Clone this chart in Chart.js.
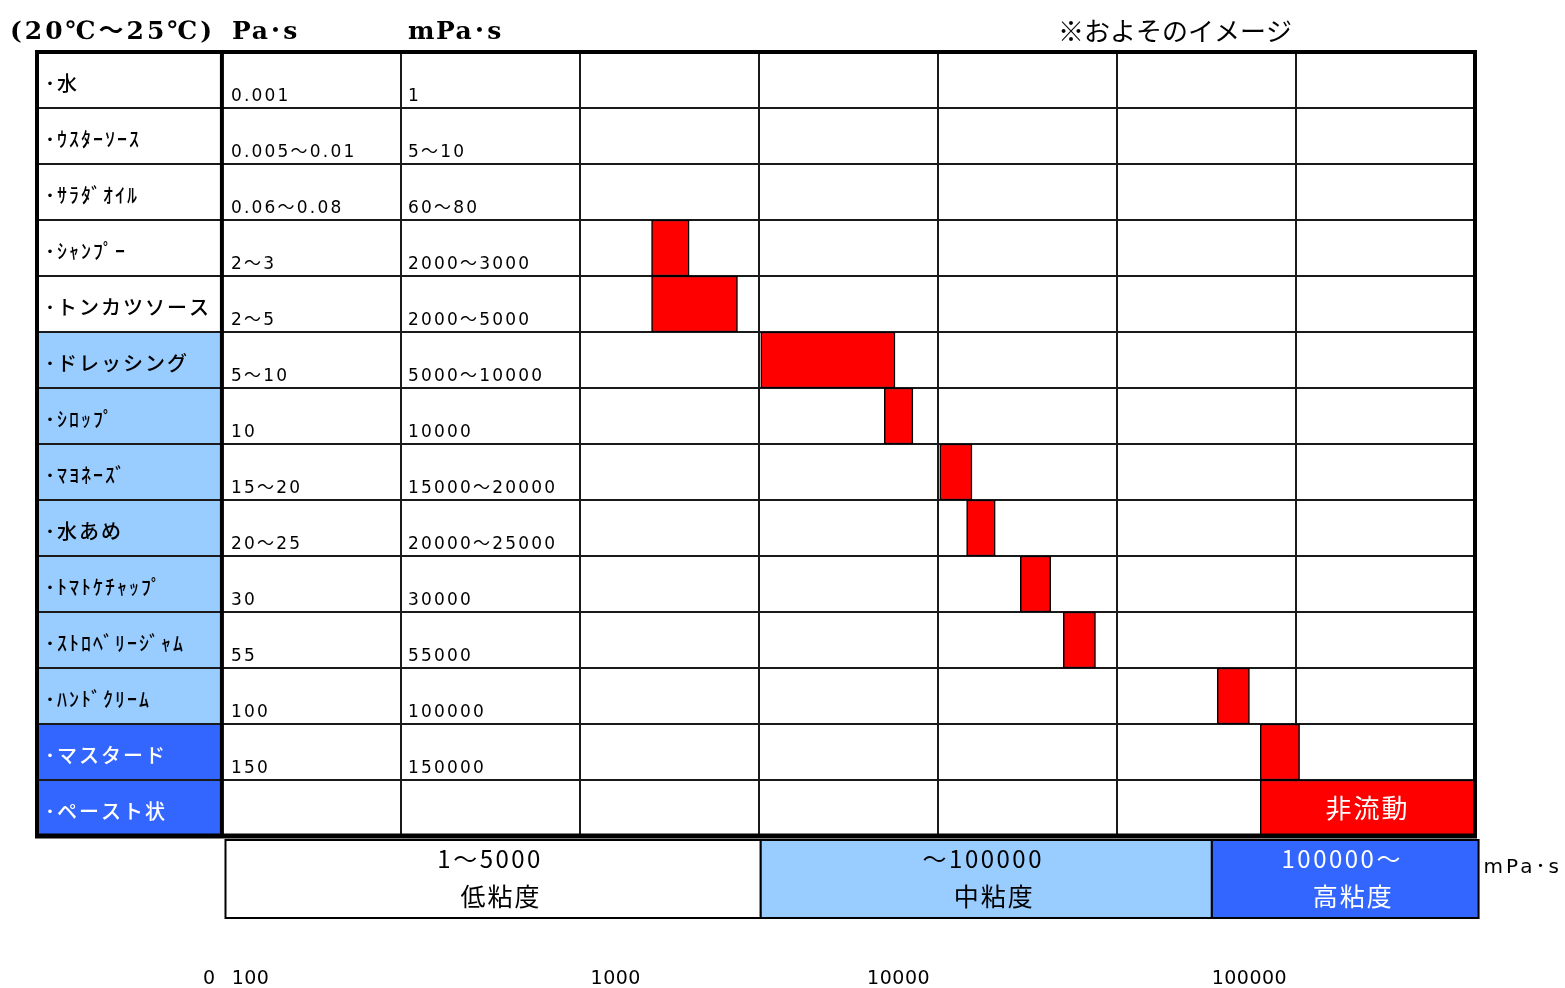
<!DOCTYPE html>
<html lang="ja">
<head>
<meta charset="utf-8">
<title>粘度のイメージ</title>
<script src="https://cdn.jsdelivr.net/npm/chart.js@4.4.1/dist/chart.umd.min.js"></script>
<style>
    html, body { margin: 0; padding: 0; background: #fff; }
    #wrap { width: 1565px; height: 988px; }
</style>
</head>
<body>
<div id="wrap"><canvas id="viscChart"></canvas></div>
<script>
// 品名 (上から順に)
const items = ['･水', '･ｳｽﾀｰｿｰｽ', '･ｻﾗﾀﾞｵｲﾙ', '･ｼｬﾝﾌﾟｰ', '･トンカツソース', '･ドレッシング', '･ｼﾛｯﾌﾟ',
    '･ﾏﾖﾈｰｽﾞ', '･水あめ', '･ﾄﾏﾄｹﾁｬｯﾌﾟ', '･ｽﾄﾛﾍﾞﾘｰｼﾞｬﾑ', '･ﾊﾝﾄﾞｸﾘｰﾑ', '･マスタード', '･ペースト状'];
// 粘度 Pa･s
const paValues = ['0.001', '0.005～0.01', '0.06～0.08', '2～3', '2～5', '5～10', '10',
    '15～20', '20～25', '30', '55', '100', '150', ''];
// 粘度 mPa･s
const mpaValues = ['1', '5～10', '60～80', '2000～3000', '2000～5000', '5000～10000', '10000',
    '15000～20000', '20000～25000', '30000', '55000', '100000', '150000', ''];
// 見出しセルの区分 (0: 低, 1: 中, 2: 高)
const labelGroup = [0, 0, 0, 0, 0, 1, 1, 1, 1, 1, 1, 1, 2, 2];
// 赤い帯の範囲 (表の列単位で読み取り)
const barStart = [null, null, null, 2.40, 2.40, 3.01, 3.70, 4.01, 4.16, 4.46, 4.70, 5.56, 5.80, 5.80];
const barEnd   = [null, null, null, 2.61, 2.88, 3.76, 3.86, 4.19, 4.32, 4.63, 4.88, 5.74, 6.02, 7.00];
const barText  = ['', '', '', '', '', '', '', '', '', '', '', '', '', '非流動'];
// 下の帯
const bandStart = [0.02, 3.01, 5.53];
const bandEnd   = [3.01, 5.53, 7.02];
const bandRange = ['1～5000', '～100000', '100000～'];
const bandName  = ['低粘度', '中粘度', '高粘度'];
// 下の目盛
const axisLabels = ['0', '100', '1000', '10000', '100000'];
const axisPos    = [-0.07, 0.16, 2.20, 3.78, 5.74];
// 列の境目
const colEdges = [0, 1, 2, 3, 4, 5, 6];

const groupFill = ['#ffffff', '#99ccff', '#3366ff'];
const groupText = ['#000000', '#000000', '#ffffff'];
const jpFont = '"Noto Sans CJK JP", "Noto Sans", sans-serif';

function drawText(ctx, text, x, y, font, color, align, spacing) {
    ctx.font = font;
    ctx.fillStyle = color;
    ctx.textAlign = align || 'left';
    ctx.textBaseline = 'middle';
    ctx.letterSpacing = spacing || '0px';
    ctx.fillText(text, x, y);
    ctx.letterSpacing = '0px';
}

// 表の枠・文字・下の帯を描く
const tablePlugin = {
    id: 'tablePlugin',
    beforeDraw(chart) {
        const { ctx, chartArea: a } = chart;
        const rowH = (a.bottom - a.top) / items.length;
        const xs = chart.scales.x;
        ctx.save();
        ctx.fillStyle = '#fff';
        ctx.fillRect(0, 0, chart.width, chart.height);
        items.forEach((t, i) => {
            ctx.fillStyle = groupFill[labelGroup[i]];
            ctx.fillRect(a.left, a.top + i * rowH, xs.getPixelForValue(0) - a.left, rowH);
        });
        ctx.restore();
    },
    afterDatasetsDraw(chart) {
        const { ctx, chartArea: a } = chart;
        const xs = chart.scales.x;
        const rowH = (a.bottom - a.top) / items.length;
        const x0 = xs.getPixelForValue(0);
        const x1 = xs.getPixelForValue(1);
        ctx.save();

        // 太い外枠
        ctx.strokeStyle = '#000';
        ctx.lineWidth = 4;
        ctx.strokeRect(a.left, a.top, a.right - a.left, a.bottom - a.top);
        ctx.beginPath();
        ctx.moveTo(x0, a.top);
        ctx.lineTo(x0, a.bottom);
        ctx.stroke();
        ctx.lineWidth = 5;
        ctx.beginPath();
        ctx.moveTo(a.left - 2, a.bottom);
        ctx.lineTo(a.right + 2, a.bottom);
        ctx.stroke();

        // 行の文字
        items.forEach((t, i) => {
            const top = a.top + i * rowH;
            drawText(ctx, t, a.left + 8, top + 31, '500 20px ' + jpFont, groupText[labelGroup[i]], 'left', '2px');
            drawText(ctx, paValues[i], x0 + 9, top + 45, '17px "DejaVu Sans", ' + jpFont, '#000', 'left', '2.2px');
            drawText(ctx, mpaValues[i], x1 + 7, top + 45, '17px "DejaVu Sans", ' + jpFont, '#000', 'left', '2.2px');
            if (barText[i]) {
                const cx = (xs.getPixelForValue(barStart[i]) + xs.getPixelForValue(barEnd[i])) / 2;
                drawText(ctx, barText[i], cx, top + rowH / 2, '26px ' + jpFont, '#fff', 'center', '2px');
            }
        });

        // 見出し
        drawText(ctx, '(20℃～25℃)', 10, 32, 'bold 25px "DejaVu Serif", ' + jpFont, '#000', 'left', '3px');
        drawText(ctx, 'Pa･s', 232, 32, 'bold 25px "DejaVu Serif", ' + jpFont, '#000', 'left', '1.5px');
        drawText(ctx, 'mPa･s', x1 + 7, 32, 'bold 25px "DejaVu Serif", ' + jpFont, '#000', 'left', '1.5px');
        drawText(ctx, '※およそのイメージ', 1058, 31, '26px ' + jpFont, '#000', 'left', '0px');

        // 下の帯
        const bTop = a.bottom + 4;
        const bH = 78;
        bandStart.forEach((s, i) => {
            const l = xs.getPixelForValue(s);
            const r = xs.getPixelForValue(bandEnd[i]);
            ctx.fillStyle = groupFill[i];
            ctx.fillRect(l, bTop, r - l, bH);
            ctx.strokeStyle = '#000';
            ctx.lineWidth = 2;
            ctx.strokeRect(l, bTop, r - l, bH);
            const c = (l + r) / 2;
            drawText(ctx, bandRange[i], c - 3, bTop + 19, '24px ' + jpFont, groupText[i], 'center', '2.5px');
            drawText(ctx, bandName[i], c + 8, bTop + 56, '25px ' + jpFont, groupText[i], 'center', '2px');
        });
        drawText(ctx, 'mPa･s', xs.getPixelForValue(bandEnd[2]) + 5, bTop + 28, '20px "DejaVu Sans", ' + jpFont, '#000', 'left', '3px');

        // 下の目盛
        axisLabels.forEach((t, i) => {
            drawText(ctx, t, xs.getPixelForValue(axisPos[i]), 979, '19px "DejaVu Sans", sans-serif', '#000', 'center', '0.5px');
        });
        ctx.restore();
    }
};

const ctx = document.getElementById('viscChart');
new Chart(ctx, {
    type: 'bar',
    data: {
        labels: items,
        datasets: [{
            data: barStart.map((s, i) => s === null ? null : [s, barEnd[i]]),
            backgroundColor: '#ff0000',
            borderColor: '#000000',
            borderWidth: 1.5,
            borderSkipped: false,
            barPercentage: 1,
            categoryPercentage: 1
        }]
    },
    options: {
        indexAxis: 'y',
        responsive: true,
        maintainAspectRatio: false,
        animation: false,
        layout: { padding: { left: 37, right: 90, top: 52, bottom: 152 } },
        plugins: {
            legend: { display: false },
            tooltip: { enabled: false }
        },
        scales: {
            x: {
                type: 'linear',
                min: -1.033,
                max: 7,
                afterBuildTicks: axis => { axis.ticks = colEdges.map(v => ({ value: v })); },
                ticks: { display: false },
                grid: { color: '#1a1a1a', lineWidth: 2, drawTicks: false },
                border: { display: false }
            },
            y: {
                ticks: { display: false },
                grid: { offset: true, color: '#1a1a1a', lineWidth: 2, drawTicks: false },
                border: { display: false }
            }
        }
    },
    plugins: [tablePlugin]
});
</script>
</body>
</html>
